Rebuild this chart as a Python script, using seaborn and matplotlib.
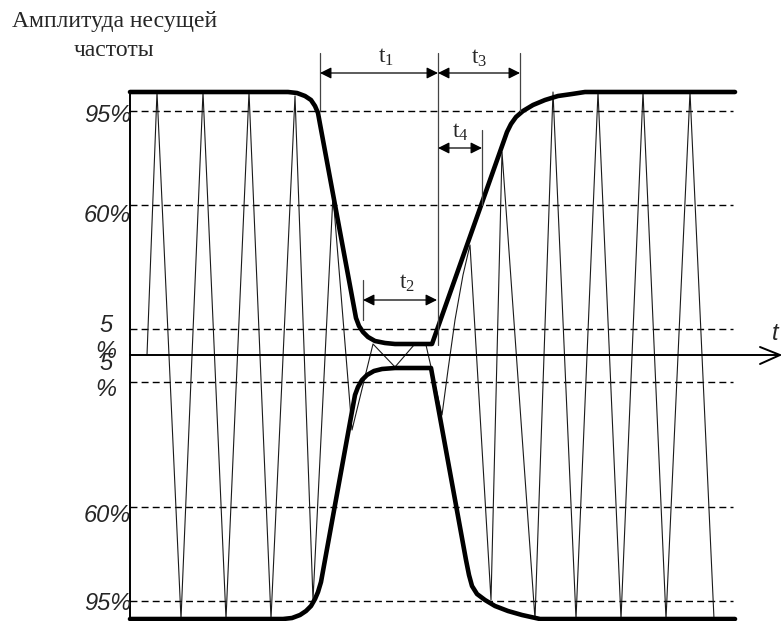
import numpy as np
import pandas as pd
import matplotlib
matplotlib.use('Agg')
import matplotlib.pyplot as plt
import seaborn as sns

# огибающая и несущая, координаты (пиксели)
env_top_x = [130, 288, 297, 305, 311, 315, 318, 320, 356, 359, 363, 368, 375, 385, 395,
             432, 507, 511, 516, 523, 533, 545, 558, 572, 585, 735]
env_top_y = [92, 92, 93, 96, 100, 106, 113, 124, 318, 326, 332, 337, 341, 343, 344,
             344, 132, 124, 117, 111, 105, 100, 96, 94, 92, 92]

env_bot_x = [130, 283, 292, 300, 306, 311, 315, 318, 321, 355, 358, 362, 367, 374, 382, 395,
             431, 466, 469, 472, 477, 485, 495, 508, 522, 540, 735]
env_bot_y = [619, 619, 618, 615, 611, 606, 599, 592, 582, 395, 387, 380, 375, 371, 369, 368,
             368, 560, 575, 586, 594, 600, 606, 611, 615, 619, 619]

carrier_x = [147, 157, 181, 203, 226, 249, 271, 295, 313, 333, 352, 373, 395, 414, 426,
             442, 448, 455, 463, 470, 491, 502, 535, 553, 576, 598, 621, 643, 666, 690, 714]
carrier_y = [355, 92, 619, 92, 619, 92, 619, 96, 600, 195, 430, 344, 367, 345, 345,
             415, 370, 320, 275, 245, 600, 152, 619, 92, 619, 92, 619, 92, 619, 92, 619]

level_y = [111, 205, 329, 382, 507, 601]
level_labels = ['95%', '60%', '5', '%', '5', '%', '60%', '95%']
label_y = [115, 215, 326, 352, 363, 390, 515, 604]

# размерные стрелки: x0, x1, y, подпись, положение подписи
dims = [
    (320, 438, 73, r'$\mathrm{t}_1$', 386, 57),
    (438, 520, 73, r'$\mathrm{t}_3$', 479, 58),
    (438, 482, 148, r'$\mathrm{t}_4$', 460, 132),
    (363, 437, 300, r'$\mathrm{t}_2$', 407, 283),
]
ext_lines = [(320, 53, 111), (438, 53, 345), (520, 53, 111), (482, 130, 205), (363, 280, 320)]

sns.set_theme(style='white')
plt.rcParams['font.family'] = ['Liberation Sans', 'DejaVu Sans']
plt.rcParams['mathtext.fontset'] = 'custom'
plt.rcParams['mathtext.rm'] = 'Liberation Serif'
plt.rcParams['mathtext.it'] = 'Liberation Serif:italic'

fig = plt.figure(figsize=(7.81, 6.21), dpi=100)
ax = fig.add_axes([0, 0, 1, 1])
ax.set_xlim(0, 781)
ax.set_ylim(621, 0)
ax.axis('off')

# пунктирные уровни
for y in level_y:
    ax.plot([130, 733], [y, y], color='black', lw=1.0, dashes=(5, 3))

# несущая
sns.lineplot(x=carrier_x, y=carrier_y, sort=False, estimator=None,
             color='#1a1a1a', lw=0.8, ax=ax)

# оси
ax.plot([130, 130], [92, 619], color='black', lw=1.4)
ax.plot([130, 780], [355, 355], color='black', lw=1.4)
ax.plot([760, 780, 760], [347, 355, 364], color='black', lw=1.4)

# огибающая
sns.lineplot(x=env_top_x, y=env_top_y, sort=False, estimator=None,
             color='black', lw=3.3, ax=ax)
sns.lineplot(x=env_bot_x, y=env_bot_y, sort=False, estimator=None,
             color='black', lw=3.3, ax=ax)

# выносные линии
for x, y0, y1 in ext_lines:
    ax.plot([x, x], [y0, y1], color='#444444', lw=0.9)

for x0, x1, y, lab, tx, ty in dims:
    ax.annotate('', xy=(x1, y), xytext=(x0, y),
                arrowprops=dict(arrowstyle='<|-|>', color='black', lw=0.9,
                                mutation_scale=17, shrinkA=0, shrinkB=0))
    ax.text(tx, ty, lab, fontsize=17, ha='center', va='center')

for lab, y in zip(level_labels, label_y):
    if len(lab) == 1:
        ax.text(106, y, lab, fontsize=17, style='italic', ha='center', va='center')
    else:
        ax.text(131, y, lab, fontsize=17, style='italic', ha='right', va='center')

ax.text(775, 333, 't', fontsize=17, style='italic', ha='center', va='center')

ax.text(115, 22, 'Амплитуда несущей', fontsize=17, family='Liberation Serif',
        ha='center', va='center')
ax.text(114, 50, 'частоты', fontsize=17, family='Liberation Serif',
        ha='center', va='center')

fig.savefig('out.png', dpi=100)
